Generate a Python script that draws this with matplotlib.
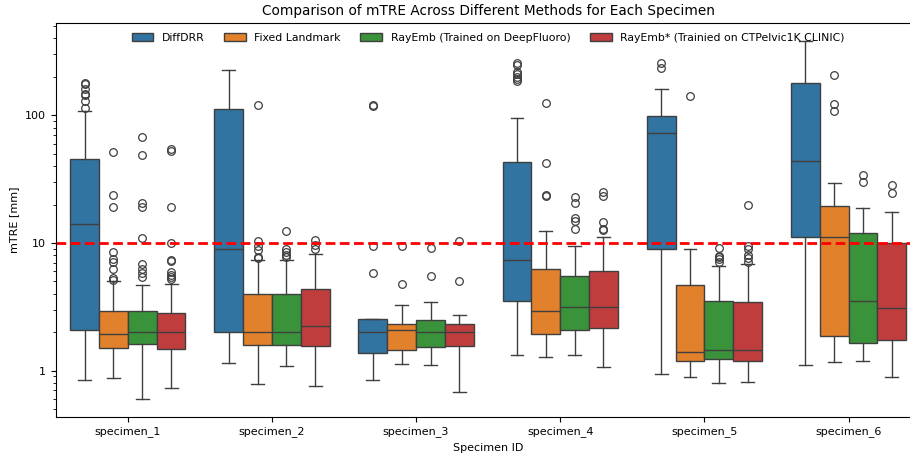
import numpy as np
import matplotlib.pyplot as plt
from matplotlib.patches import Patch
from matplotlib.ticker import ScalarFormatter

specimens = ['specimen_1', 'specimen_2', 'specimen_3', 'specimen_4', 'specimen_5', 'specimen_6']
methods = ['DiffDRR', 'Fixed Landmark', 'RayEmb (Trained on DeepFluoro)', 'RayEmb* (Trainied on CTPelvic1K CLINIC)']
colors = ['#3274a1', '#e1812c', '#3a923a', '#c03d3e']

# box stats per method, one value per specimen
diffdrr_med = [14.2, 8.9, 2.0, 7.4, 72.3, 43.8]
diffdrr_q1 = [2.1, 2.01, 1.38, 3.5, 8.9, 11.2]
diffdrr_q3 = [45.7, 113, 2.55, 43, 98.8, 180]
diffdrr_lo = [0.85, 1.15, 0.85, 1.33, 0.95, 1.11]
diffdrr_hi = [108, 227, 2.55, 96, 162, 383]
diffdrr_fliers = [[180, 175, 160, 146, 144, 129, 115], [], [120, 118, 9.4, 5.84],
                  [259, 247, 219, 210, 201, 191, 186], [259, 235], []]

fixed_med = [1.94, 2.01, 2.1, 2.95, 1.40, 11.2]
fixed_q1 = [1.51, 1.6, 1.46, 1.92, 1.18, 1.86]
fixed_q3 = [2.92, 3.95, 2.3, 6.2, 4.67, 19.4]
fixed_lo = [0.875, 0.78, 1.13, 1.28, 0.89, 1.17]
fixed_hi = [5.02, 7.33, 3.25, 12.4, 9.0, 29.7]
fixed_fliers = [[51.5, 23.7, 19.1, 8.53, 7.56, 7.07, 6.2, 5.33, 5.17],
                [120, 10.3, 9.44, 8.8, 7.8, 7.6], [9.5, 4.81],
                [124, 42, 23.6, 23.2], [143], [206, 122, 108]]

rayemb_med = [2.0, 2.01, 2.01, 3.16, 1.44, 3.54]
rayemb_q1 = [1.62, 1.6, 1.52, 2.1, 1.23, 1.65]
rayemb_q3 = [2.95, 4.02, 2.48, 5.5, 3.5, 12.0]
rayemb_lo = [0.60, 1.08, 1.1, 1.33, 0.80, 1.2]
rayemb_hi = [4.7, 7.4, 3.43, 9.44, 6.66, 18.9]
rayemb_fliers = [[67.6, 48.8, 20.7, 19.1, 11.0, 6.8, 6.2, 5.77, 5.4],
                 [12.4, 8.9, 8.5, 8.1, 7.8], [9.1, 5.5],
                 [22.9, 20.7, 15.8, 14.8, 12.9], [9.1, 7.98, 7.8, 7.5, 7.1], [34, 30]]

rayembs_med = [2.0, 2.25, 2.0, 3.15, 1.44, 3.08]
rayembs_q1 = [1.48, 1.57, 1.57, 2.16, 1.2, 1.73]
rayembs_q3 = [2.83, 4.37, 2.34, 6.0, 3.43, 10.0]
rayembs_lo = [0.73, 0.753, 0.676, 1.07, 0.82, 0.89]
rayembs_hi = [4.79, 8.2, 2.75, 11.2, 6.87, 17.4]
rayembs_fliers = [[54.1, 53, 19, 10.0, 7.42, 7.2, 5.9, 5.6, 5.4, 5.2],
                  [10.6, 9.6, 8.9], [10.4, 5.0],
                  [25, 23.3, 14.7, 12.8, 12.7], [19.7, 9.5, 8.9, 8.0, 7.6, 7.1], [28.4, 24.7]]

threshold = 10

all_stats = [
    (diffdrr_med, diffdrr_q1, diffdrr_q3, diffdrr_lo, diffdrr_hi, diffdrr_fliers),
    (fixed_med, fixed_q1, fixed_q3, fixed_lo, fixed_hi, fixed_fliers),
    (rayemb_med, rayemb_q1, rayemb_q3, rayemb_lo, rayemb_hi, rayemb_fliers),
    (rayembs_med, rayembs_q1, rayembs_q3, rayembs_lo, rayembs_hi, rayembs_fliers),
]

line_col = '#3f3f3f'
fig, ax = plt.subplots(figsize=(9.1, 4.54), dpi=100)

x = np.arange(len(specimens))
width = 0.2
for i, (med, q1, q3, lo, hi, fl) in enumerate(all_stats):
    stats = []
    for j in range(len(specimens)):
        stats.append({'med': med[j], 'q1': q1[j], 'q3': q3[j],
                      'whislo': lo[j], 'whishi': hi[j], 'fliers': fl[j]})
    pos = x + (i - 1.5) * width
    ax.bxp(stats, positions=pos, widths=width, patch_artist=True, manage_ticks=False,
           boxprops=dict(facecolor=colors[i], edgecolor=line_col, linewidth=1.0),
           medianprops=dict(color=line_col, linewidth=1.0),
           whiskerprops=dict(color=line_col, linewidth=1.0),
           capprops=dict(color=line_col, linewidth=1.0),
           capwidths=width * 0.45,
           flierprops=dict(marker='o', markerfacecolor='none', markeredgecolor=line_col,
                           markersize=5.5, markeredgewidth=0.9))

ax.axhline(threshold, color='red', linestyle='--', linewidth=2, dashes=(3.5, 1.6))

ax.set_yscale('log')
ax.set_ylim(0.436, 526)
ax.set_xlim(-0.5, 5.5)
ax.yaxis.set_major_formatter(ScalarFormatter())
ax.set_xticks(x)
ax.set_xticklabels(specimens)
ax.tick_params(labelsize=8)
ax.set_xlabel('Specimen ID', fontsize=8)
ax.set_ylabel('mTRE [mm]', fontsize=8)
ax.set_title('Comparison of mTRE Across Different Methods for Each Specimen', fontsize=9.8)

handles = [Patch(facecolor=c, edgecolor=line_col, label=m) for c, m in zip(colors, methods)]
ax.legend(handles=handles, loc='upper center', ncol=4, frameon=False, fontsize=7.8,
          columnspacing=1.8, bbox_to_anchor=(0.5, 1.0))

# the source image is cropped on the right, so the axes run past the edge
plt.subplots_adjust(left=0.0612, right=1.0117, top=0.9487, bottom=0.0822)
plt.savefig('out.png')
